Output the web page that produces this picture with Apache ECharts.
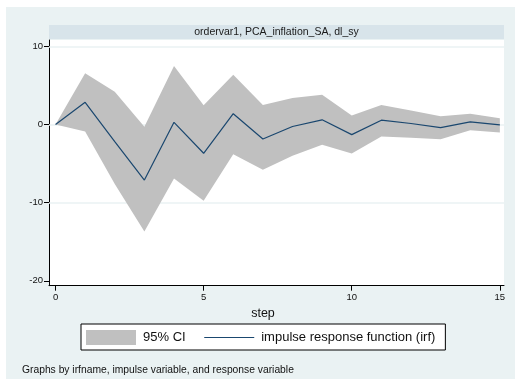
<!DOCTYPE html>
<html>
<head>
<meta charset="utf-8">
<script src="https://cdn.jsdelivr.net/npm/echarts@6/dist/echarts.min.js"></script>
<style>
  html, body { margin: 0; padding: 0; background: #ffffff; }
  #chart { width: 515px; height: 379px; }
</style>
</head>
<body>
<div id="chart"></div>
<script>
// Impulse response of dl_sy to PCA_inflation_SA, with 95% confidence band
const steps = [0, 1, 2, 3, 4, 5, 6, 7, 8, 9, 10, 11, 12, 13, 14, 15];
const irf   = [0, 2.84, -2.2, -7.1, 0.28, -3.68, 1.38, -1.85, -0.26, 0.6, -1.29, 0.55, 0.13, -0.39, 0.34, -0.04];
const ciUpper = [0, 6.55, 4.2, -0.3, 7.5, 2.45, 6.37, 2.5, 3.4, 3.8, 1.16, 2.5, 1.8, 1.07, 1.38, 0.81];
const ciLower = [0, -0.9, -7.6, -13.7, -6.9, -9.75, -3.8, -5.8, -4.0, -2.6, -3.7, -1.54, -1.7, -1.9, -0.73, -1.03];

const xTicks = [0, 5, 10, 15];
const yTicks = [-20, -10, 0, 10];
const yGrid = [-10, 0, 10];

const panelTitle = 'ordervar1, PCA_inflation_SA, dl_sy';
const xTitle = 'step';
const noteText = 'Graphs by irfname, impulse variable, and response variable';
const ciName = '95% CI';
const irfName = 'impulse response function (irf)';

const FONT = '"Liberation Sans", Arial, Helvetica, sans-serif';
const BG = '#eaf2f3';
const STRIP = '#d8e4ea';
const BAND = '#c0c0c0';
const NAVY = '#1a476f';

const bandRows = steps.map((s, i) => [s, ciLower[i], ciUpper[i]]);
const irfPts = steps.map((s, i) => [s, irf[i]]);

// The confidence band is one closed polygon: upper bound left to right, then lower bound back.
function renderBand(params, api) {
  if (params.dataIndex !== 0) return null;
  const upperPts = bandRows.map(r => api.coord([r[0], r[2]]));
  const lowerPts = bandRows.map(r => api.coord([r[0], r[1]])).reverse();
  return {
    type: 'polygon',
    shape: { points: upperPts.concat(lowerPts) },
    style: { fill: BAND, stroke: null },
    silent: true
  };
}

const chart = echarts.init(document.getElementById('chart'), null, { renderer: 'canvas' });

chart.setOption({
  animation: false,
  backgroundColor: 'transparent',
  graphic: [
    { type: 'rect', z: -10, silent: true,
      shape: { x: 6, y: 7, width: 509, height: 372 },
      style: { fill: BG } },
    { type: 'rect', z: -5, silent: true,
      shape: { x: 49, y: 25, width: 455, height: 14 },
      style: { fill: STRIP } },
    { type: 'text', silent: true, x: 276.5, y: 32.5,
      style: { text: panelTitle, fill: '#1a1a1a', font: '10.5px ' + FONT,
               textAlign: 'center', textVerticalAlign: 'middle' } },
    { type: 'text', silent: true, x: 263, y: 313.5,
      style: { text: xTitle, fill: '#111111', font: '12.5px ' + FONT,
               textAlign: 'center', textVerticalAlign: 'middle' } },
    { type: 'text', silent: true, x: 22, y: 370,
      style: { text: noteText, fill: '#111111', font: '10.3px ' + FONT,
               textAlign: 'left', textVerticalAlign: 'middle' } }
  ],
  grid: {
    left: 49, right: 11, top: 40, bottom: 93.3,
    show: true, backgroundColor: '#ffffff', borderWidth: 0,
    containLabel: false, outerBoundsMode: 'none'
  },
  legend: {
    left: 81, top: 324,
    orient: 'horizontal',
    backgroundColor: '#ffffff',
    borderColor: '#000000', borderWidth: 1, borderRadius: 0,
    padding: [6, 10, 5, 5],
    itemWidth: 50, itemHeight: 15, itemGap: 18,
    selectedMode: false,
    textStyle: { fontFamily: FONT, fontSize: 13, color: '#111111', padding: [0, 0, 0, 2] },
    data: [
      { name: ciName, icon: 'rect', itemStyle: { color: BAND, borderWidth: 0 } },
      { name: irfName, itemStyle: { opacity: 0 }, lineStyle: { color: NAVY, width: 1.2 } }
    ]
  },
  xAxis: {
    type: 'value', min: -0.22, max: 15.14,
    axisLine: { show: true, onZero: false, lineStyle: { color: '#000000', width: 1 } },
    axisTick: { show: true, length: 5, customValues: xTicks, lineStyle: { color: '#000000' } },
    axisLabel: { show: true, customValues: xTicks, margin: 7, fontFamily: FONT, fontSize: 9.5, color: '#111111' },
    splitLine: { show: false }
  },
  yAxis: {
    type: 'value', min: -20.62, max: 10.81,
    axisLine: { show: true, onZero: false, lineStyle: { color: '#000000', width: 1 } },
    axisTick: { show: true, length: 5, customValues: yTicks, lineStyle: { color: '#000000' } },
    axisLabel: { show: true, customValues: yTicks, margin: 6, fontFamily: FONT, fontSize: 9.5, color: '#111111' },
    splitLine: { show: false }
  },
  series: [
    {
      // carries the horizontal grid lines beneath the band
      name: 'grid', type: 'line', z: 1,
      data: irfPts, symbol: 'none', lineStyle: { opacity: 0 }, silent: true,
      markLine: {
        z: 1, silent: true, symbol: 'none', label: { show: false },
        lineStyle: { color: BG, width: 1.5, type: 'solid' },
        data: yGrid.map(v => ({ yAxis: v }))
      }
    },
    {
      name: ciName, type: 'custom', z: 4,
      renderItem: renderBand,
      data: bandRows,
      encode: { x: 0, y: [1, 2] },
      itemStyle: { color: BAND }
    },
    {
      name: irfName, type: 'line', z: 6,
      data: irfPts, symbol: 'none',
      itemStyle: { color: NAVY },
      lineStyle: { color: NAVY, width: 1.2 }
    }
  ]
});
</script>
</body>
</html>
